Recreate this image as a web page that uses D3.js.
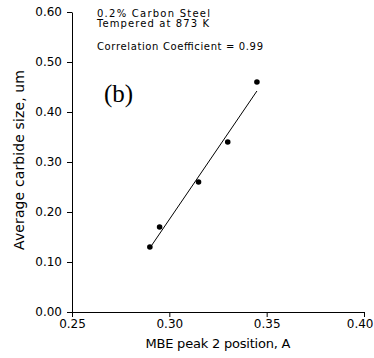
<!DOCTYPE html>
<html>
<head>
<meta charset="utf-8">
<script src="https://cdn.jsdelivr.net/npm/d3@7"></script>
<style>
  html, body { margin: 0; padding: 0; background: #fff; }
  svg { display: block; }
  text { font-family: "DejaVu Sans", sans-serif; fill: #000; }
</style>
</head>
<body>
<svg id="chart" width="374" height="358"></svg>
<script>
// ---- data ----
const peakPosition = [0.290, 0.295, 0.315, 0.330, 0.345];
const carbideSize  = [0.13, 0.17, 0.26, 0.34, 0.46];
const fitX = [0.290, 0.345];
const fitY = [0.128, 0.442];
const xTicks = [0.25, 0.30, 0.35, 0.40];
const yTicks = [0.00, 0.10, 0.20, 0.30, 0.40, 0.50, 0.60];
const notes = ["0.2% Carbon Steel", "Tempered at 873 K", "Correlation Coefficient = 0.99"];

const svg = d3.select("#chart");
const x = d3.scaleLinear().domain([0.25, 0.40]).range([72, 364]);
const y = d3.scaleLinear().domain([0, 0.6]).range([312, 12]);

// axes
const xAxis = d3.axisBottom(x).tickValues(xTicks).tickFormat(d3.format(".2f")).tickSize(5).tickSizeOuter(0).tickPadding(2);
const yAxis = d3.axisLeft(y).tickValues(yTicks).tickFormat(d3.format(".2f")).tickSize(5).tickSizeOuter(0).tickPadding(5);

const gx = svg.append("g").attr("transform", `translate(0,${y(0)})`).call(xAxis);
const gy = svg.append("g").attr("transform", `translate(${x(0.25)},0)`).call(yAxis);
[gx, gy].forEach(g => {
  g.select(".domain").attr("stroke", "#000").attr("stroke-width", 1);
  g.selectAll(".tick line").attr("stroke", "#000").attr("stroke-width", 1);
  g.selectAll(".tick text").attr("font-family", "DejaVu Sans, sans-serif").attr("font-size", 12).attr("fill", "#000");
});
// keep the last x label inside the picture
gx.selectAll(".tick text").filter(d => d === 0.40).attr("text-anchor", "end").attr("dx", 9);

// fit line
svg.append("path")
  .datum(fitX.map((v, i) => [v, fitY[i]]))
  .attr("fill", "none").attr("stroke", "#000").attr("stroke-width", 1)
  .attr("d", d3.line().x(d => x(d[0])).y(d => y(d[1])));

// points
svg.append("g").selectAll("circle")
  .data(peakPosition.map((v, i) => [v, carbideSize[i]]))
  .join("circle")
  .attr("cx", d => x(d[0])).attr("cy", d => y(d[1]))
  .attr("r", 2.8).attr("fill", "#000");

// notes
const noteY = [17, 27, 50];
const noteW = [113, 112, 166];
notes.forEach((t, i) => {
  svg.append("text").attr("x", 97).attr("y", noteY[i])
    .attr("font-size", 10).attr("textLength", noteW[i]).attr("lengthAdjust", "spacing")
    .text(t);
});

// panel label
svg.append("text").attr("x", 104).attr("y", 102)
  .style("font-family", "'Liberation Serif', 'Times New Roman', serif")
  .attr("font-size", 25).text("(b)");

// axis titles
svg.append("text")
  .attr("transform", "translate(24,160) rotate(-90)")
  .attr("text-anchor", "middle").attr("font-size", 14)
  .attr("textLength", 180).attr("lengthAdjust", "spacing")
  .text("Average carbide size, um");

svg.append("text")
  .attr("x", 218).attr("y", 348)
  .attr("text-anchor", "middle").attr("font-size", 13)
  .attr("textLength", 145).attr("lengthAdjust", "spacing")
  .text("MBE peak 2 position, A");
</script>
</body>
</html>
